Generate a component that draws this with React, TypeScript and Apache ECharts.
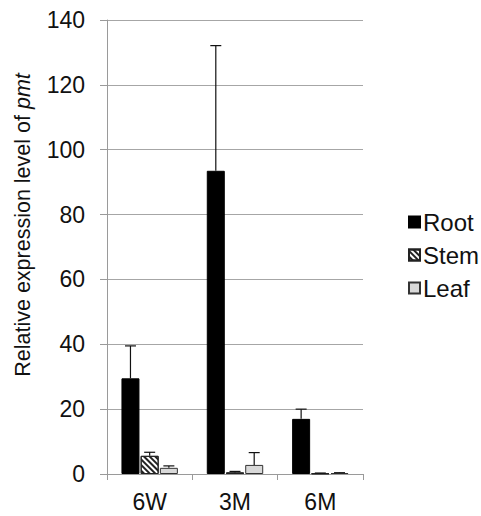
import React, { useEffect, useRef } from "react";
import * as echarts from "echarts";

const categories = ["6W", "3M", "6M"];
const seriesNames = ["Root", "Stem", "Leaf"];
const rootValues = [29.5, 93.5, 17.0];
const rootErrors = [10.0, 38.6, 3.0];
const stemValues = [5.6, 0.5, 0.2];
const stemErrors = [1.1, 0.3, 0.1];
const leafValues = [1.9, 2.8, 0.3];
const leafErrors = [0.6, 3.8, 0.1];
const yTicks = [0, 140, 20];

const FONT = "'Liberation Sans', Arial, Helvetica, sans-serif";
const BAR_W = 18;
const GAP = 1.2;

export default function App() {
  const ref = useRef<HTMLDivElement>(null);
  useEffect(() => {
    if (!ref.current) return;
    const chart = echarts.init(ref.current, null, { renderer: "svg" });
    const values = [rootValues, stemValues, leafValues];
    const errors = [rootErrors, stemErrors, leafErrors];
    const errSeries = values.map((vals, si) => {
      const offset = (si - 1) * (BAR_W + GAP);
      return {
        type: "custom",
        z: 10,
        silent: true,
        data: vals.map((v, i) => [i, v, errors[si][i]]),
        encode: { x: 0, y: 1 },
        renderItem: (params: any, api: any) => {
          const c = api.value(0);
          const v = api.value(1);
          const e = api.value(2);
          const base = api.coord([c, v]);
          const top = api.coord([c, v + e]);
          const x = base[0] + offset;
          const stroke = { stroke: "#111", lineWidth: 1.2 };
          return {
            type: "group",
            children: [
              { type: "line", shape: { x1: x, y1: base[1], x2: x, y2: top[1] }, style: stroke },
              { type: "line", shape: { x1: x - 5.5, y1: top[1], x2: x + 5.5, y2: top[1] }, style: stroke },
            ],
          };
        },
      };
    });
    const option: any = {
      animation: false,
      backgroundColor: "#fff",
      grid: { left: 107, right: 118, top: 20, bottom: 42, containLabel: false },
      legend: {
        orient: "vertical",
        left: 403,
        top: 205,
        itemWidth: 11,
        itemHeight: 11,
        itemGap: 9,
        icon: "rect",
        data: seriesNames,
        textStyle: { fontFamily: FONT, fontSize: 24, color: "#111", padding: [0, 0, 0, -2] },
      },
      xAxis: {
        type: "category",
        data: categories,
        axisLine: { lineStyle: { color: "#9a9a9a", width: 1 } },
        axisTick: { show: true, length: 6, lineStyle: { color: "#9a9a9a" } },
        axisLabel: { fontFamily: FONT, fontSize: 23, color: "#111", margin: 16 },
      },
      yAxis: {
        type: "value",
        min: yTicks[0],
        max: yTicks[1],
        interval: yTicks[2],
        axisLine: { show: true, lineStyle: { color: "#9a9a9a", width: 1 } },
        axisTick: { show: true, length: 7, lineStyle: { color: "#9a9a9a" } },
        splitLine: { lineStyle: { color: "#a6a6a6", width: 1 } },
        axisLabel: { fontFamily: FONT, fontSize: 23, color: "#111", margin: 22 },
      },
      graphic: [
        {
          type: "text",
          x: 23,
          y: 225,
          rotation: Math.PI / 2,
          style: {
            text: "{n|Relative expression level of }{i|pmt}",
            align: "center",
            verticalAlign: "middle",
            rich: {
              n: { fontFamily: FONT, fontSize: 21.5, fill: "#111" },
              i: { fontFamily: FONT, fontSize: 21.5, fontStyle: "italic", fill: "#111" },
            },
          },
        },
      ],
      series: [
        {
          name: "Root",
          type: "bar",
          barWidth: BAR_W,
          barGap: "6.7%",
          data: rootValues,
          itemStyle: { color: "#000", borderColor: "#000", borderWidth: 1 },
        },
        {
          name: "Stem",
          type: "bar",
          barWidth: BAR_W,
          data: stemValues,
          itemStyle: {
            color: "#fff",
            borderColor: "#222",
            borderWidth: 1,
            decal: {
              symbol: "rect",
              symbolSize: 1,
              dashArrayX: [1, 0],
              dashArrayY: [1.5, 1.8],
              rotation: Math.PI / 4,
              color: "#222",
            },
          },
        },
        {
          name: "Leaf",
          type: "bar",
          barWidth: BAR_W,
          data: leafValues,
          itemStyle: { color: "#d9d9d9", borderColor: "#333", borderWidth: 1 },
        },
        ...errSeries,
      ],
    };
    chart.setOption(option);
    return () => chart.dispose();
  }, []);
  return (
    <div
      ref={ref}
      style={{ position: "absolute", left: 0, top: 0, width: 481, height: 516 }}
    />
  );
}
